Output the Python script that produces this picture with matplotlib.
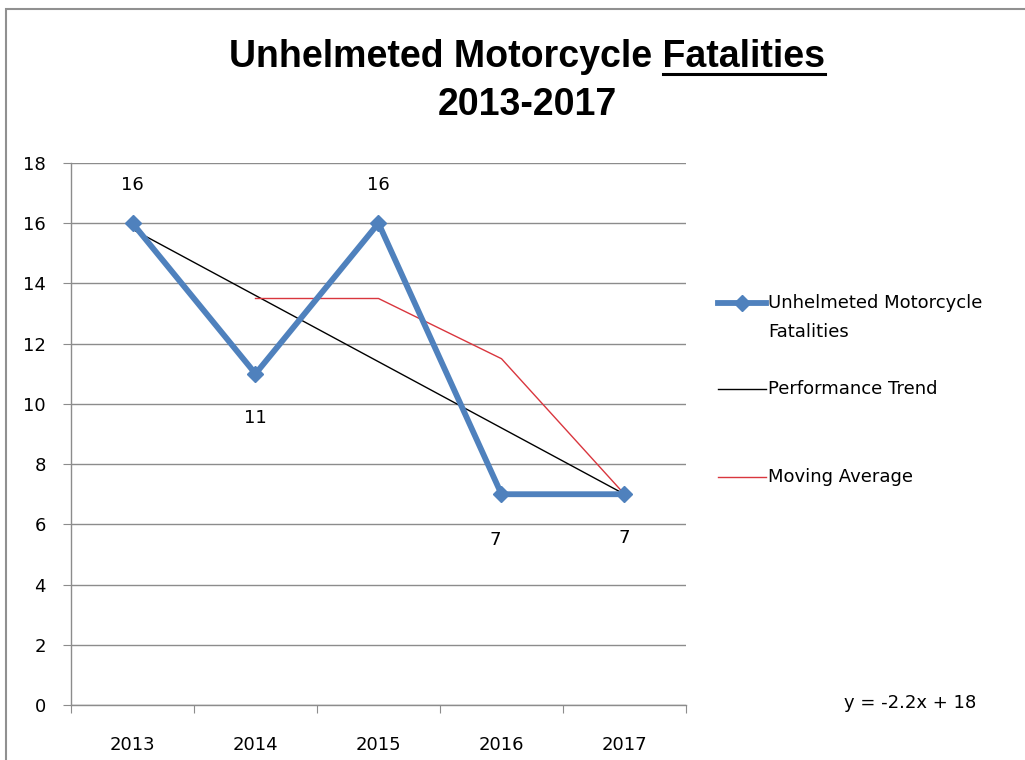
import matplotlib
matplotlib.use("Agg")
import matplotlib.pyplot as plt
from matplotlib.lines import Line2D
from matplotlib.patches import Rectangle
import numpy as np

years = ["2013", "2014", "2015", "2016", "2017"]
fatalities = [16, 11, 16, 7, 7]
moving_avg = [None, 13.5, 13.5, 11.5, 7]
trend_slope = -2.2
trend_intercept = 18
y_ticks = [0, 2, 4, 6, 8, 10, 12, 14, 16, 18]

BLUE = "#4F81BD"
RED = "#D9363E"
GRID = "#8C8C8C"
SMALL = 13

plt.rcParams['font.family'] = ['DejaVu Sans']

fig = plt.figure(figsize=(10.25, 7.6), dpi=100)
W, H = 1025, 760

# outer chart border
fig.patches.append(Rectangle((6 / W, -0.1), 1.2, 1 - 9 / H + 0.1, transform=fig.transFigure,
                             fill=False, edgecolor="#909090", linewidth=1.5))

ax = fig.add_axes([71 / W, 1 - 705 / H, 615 / W, 542 / H])
x = np.arange(len(years)) + 1

# trend line  y = -2.2x + 18
trend = trend_slope * x + trend_intercept
ax.plot(x, trend, color="black", linewidth=1.0, zorder=3)

# moving average
ma_x = [xi for xi, v in zip(x, moving_avg) if v is not None]
ma_y = [v for v in moving_avg if v is not None]
ax.plot(ma_x, ma_y, color=RED, linewidth=1.0, zorder=3)

# main series
ax.plot(x, fatalities, color=BLUE, linewidth=4.2, marker="D", markersize=8,
        markerfacecolor=BLUE, markeredgecolor=BLUE, zorder=4)

# data labels (above / below the point)
label_off = [(0, 1.26), (0, -1.46), (0, 1.26), (-0.05, -1.53), (0, -1.45)]
for xi, v, (dx, dy) in zip(x, fatalities, label_off):
    ax.text(xi + dx, v + dy, str(v), ha="center", va="center", fontsize=SMALL, zorder=5)

ax.set_xlim(0.5, 5.5)
ax.set_ylim(0, 18)
ax.set_yticks(y_ticks)
ax.set_xticks(np.arange(0.5, 5.6, 1.0))
ax.set_xticklabels([])
ax.set_xticks(x, minor=True)
ax.set_xticklabels(years, minor=True)
ax.tick_params(axis="x", which="minor", length=0, pad=22, labelsize=SMALL)
ax.tick_params(axis="x", which="major", length=6, color=GRID, direction="out")
ax.tick_params(axis="y", length=6, color=GRID, direction="out", pad=12, labelsize=SMALL)
ax.yaxis.grid(True, color=GRID, linewidth=1.0)
ax.set_axisbelow(True)
for side in ["top", "right"]:
    ax.spines[side].set_visible(False)
for side in ["left", "bottom"]:
    ax.spines[side].set_color(GRID)
    ax.spines[side].set_linewidth(1.0)

# title with underlined "Fatalities"
TFONT = dict(fontsize=27, fontweight="bold", family=["Liberation Sans", "DejaVu Sans"])
t1 = fig.text(527 / W, 1 - 57 / H, "Unhelmeted Motorcycle Fatalities", ha="center", va="center", **TFONT)
fig.text(527 / W, 1 - 105 / H, "2013-2017", ha="center", va="center", **TFONT)
renderer = fig.canvas.get_renderer()
bb = t1.get_window_extent(renderer)
tmp = fig.text(0, 0, "Fatalities", **TFONT)
wb = tmp.get_window_extent(renderer)
tmp.remove()
uy = 1 - 74 / H
fig.lines.append(Line2D([(bb.x1 - wb.width) / W, bb.x1 / W], [uy, uy], transform=fig.transFigure,
                        color="black", linewidth=2.2))

# legend drawn by hand
def legend_line(y, color, lw, marker=None):
    fig.lines.append(Line2D([718 / W, 766 / W], [1 - y / H, 1 - y / H], transform=fig.transFigure,
                            color=color, linewidth=lw))
    if marker:
        fig.lines.append(Line2D([742 / W], [1 - y / H], transform=fig.transFigure, marker=marker,
                                markersize=8, color=color, linestyle="none"))

legend_line(303, BLUE, 4.2, "D")
fig.text(768 / W, 1 - 303 / H, "Unhelmeted Motorcycle", ha="left", va="center", fontsize=SMALL)
fig.text(768 / W, 1 - 332 / H, "Fatalities", ha="left", va="center", fontsize=SMALL)
legend_line(389, "black", 1.0)
fig.text(768 / W, 1 - 389 / H, "Performance Trend", ha="left", va="center", fontsize=SMALL)
legend_line(477, RED, 1.0)
fig.text(768 / W, 1 - 477 / H, "Moving Average", ha="left", va="center", fontsize=SMALL)

fig.text(910 / W, 1 - 703 / H, "y = -2.2x + 18", ha="center", va="center", fontsize=SMALL)

fig.savefig("out.png", dpi=100)
